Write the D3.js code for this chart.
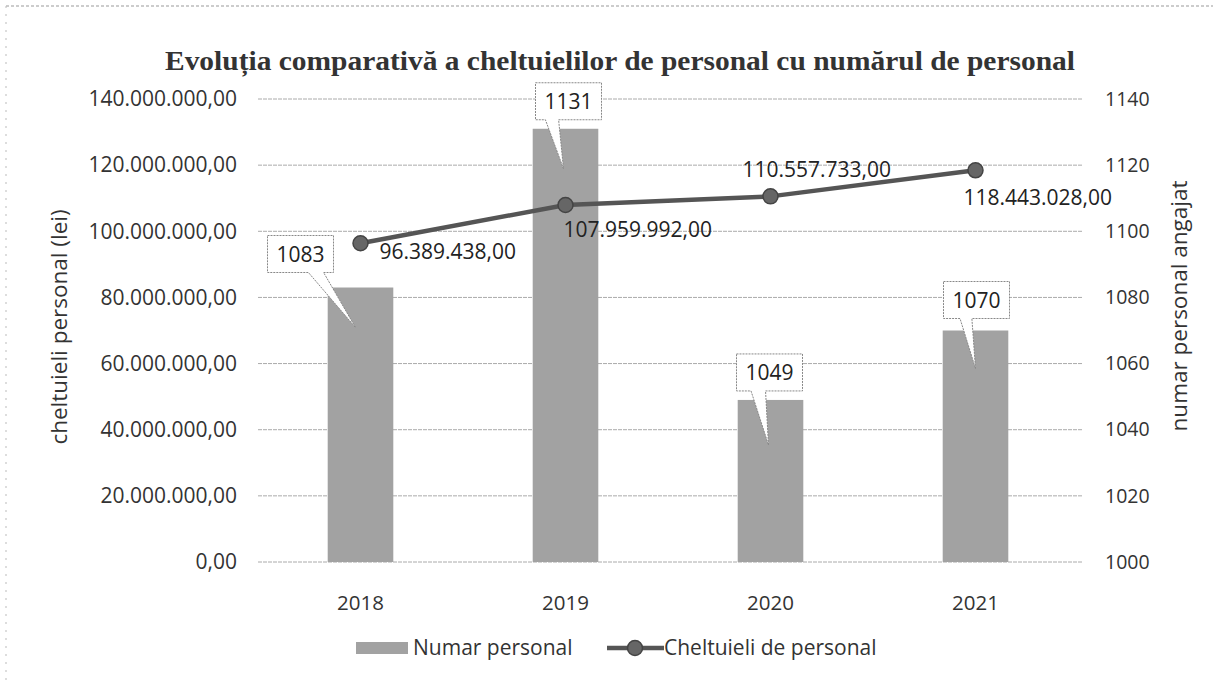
<!DOCTYPE html>
<html>
<head>
<meta charset="utf-8">
<script src="https://cdn.jsdelivr.net/npm/d3@7"></script>
<style>
  body { margin: 0; background: #fff; }
  text { font-family: "Open Sans", "DejaVu Sans", sans-serif; fill: #222; }
</style>
</head>
<body>
<svg id="chart" width="1213" height="682"></svg>
<script>
// data
var years = ['2018', '2019', '2020', '2021'];
var numarPersonal = [1083, 1131, 1049, 1070];
var cheltuieli = [96389438, 107959992, 110557733, 118443028];
var leftTicks = [0, 20000000, 40000000, 60000000, 80000000, 100000000, 120000000, 140000000];
var rightTicks = [1000, 1020, 1040, 1060, 1080, 1100, 1120, 1140];

var svg = d3.select('#chart');
var margin = {left: 258, right: 135, top: 99, bottom: 120};
var W = 1213, H = 682;
var x0 = margin.left, x1 = W - margin.right, y0 = margin.top, y1 = H - margin.bottom;

var fmt = function(v) {
  // romanian style: 1.234.567,00
  var s = Math.round(v).toString().replace(/\B(?=(\d{3})+(?!\d))/g, '.');
  return s + ',00';
};

var x = d3.scaleBand().domain(years).range([x0, x1]).paddingInner(0.68).paddingOuter(0.34);
var yL = d3.scaleLinear().domain([0, 140000000]).range([y1, y0]);
var yR = d3.scaleLinear().domain([1000, 1140]).range([y1, y0]);

// scanned page border
svg.append('line').attr('x1', 6).attr('x2', W).attr('y1', 6).attr('y2', 6)
  .attr('stroke', '#999').attr('stroke-dasharray', '3,2').attr('stroke-width', 1);
svg.append('line').attr('x1', 6).attr('x2', 6).attr('y1', 6).attr('y2', H)
  .attr('stroke', '#bbb').attr('stroke-dasharray', '2,6').attr('stroke-width', 1);

// title
svg.append('text').attr('x', 165).attr('y', 70)
  .attr('textLength', 910).attr('lengthAdjust', 'spacingAndGlyphs')
  .style('font-family', '"Liberation Serif", "DejaVu Serif", serif')
  .style('font-weight', 'bold').style('font-size', '27px').style('fill', '#333')
  .text('Evoluția comparativă a cheltuielilor de personal cu numărul de personal');

// gridlines
svg.append('g').selectAll('line').data(leftTicks).enter().append('line')
  .attr('x1', x0).attr('x2', x1 + 5)
  .attr('y1', function(d) { return yL(d); }).attr('y2', function(d) { return yL(d); })
  .attr('stroke', '#aaa').attr('stroke-width', 1).attr('stroke-dasharray', '4,1');

// left axis
var gl = svg.append('g').attr('transform', 'translate(' + (x0 - 18) + ',0)')
  .call(d3.axisLeft(yL).tickValues(leftTicks).tickFormat(fmt).tickSize(0));
gl.select('.domain').remove();
gl.selectAll('text').style('font-size', '21px').style('fill', '#333').attr('font-family', null);

// right axis
var gr = svg.append('g').attr('transform', 'translate(' + (x1 + 24) + ',0)')
  .call(d3.axisRight(yR).tickValues(rightTicks).tickFormat(d3.format('d')).tickSize(0));
gr.select('.domain').remove();
gr.selectAll('text').style('font-size', '19.5px').style('fill', '#333').attr('font-family', null);

// x axis labels
var gx = svg.append('g').attr('transform', 'translate(0,' + (y1 + 30) + ')')
  .call(d3.axisBottom(x).tickSize(0));
gx.select('.domain').remove();
gx.selectAll('text').style('font-size', '20.5px').style('fill', '#333').attr('font-family', null);

// axis titles
svg.append('text').attr('transform', 'translate(67,' + 327 + ') rotate(-90)')
  .attr('text-anchor', 'middle').style('font-size', '22.5px').style('fill', '#333')
  .text('cheltuieli personal (lei)');
svg.append('text').attr('transform', 'translate(1187,' + 306 + ') rotate(-90)')
  .attr('text-anchor', 'middle').style('font-size', '22.5px').style('fill', '#333')
  .text('numar personal angajat');

// bars
svg.append('g').selectAll('rect').data(numarPersonal).enter().append('rect')
  .attr('x', function(d, i) { return x(years[i]); })
  .attr('width', x.bandwidth())
  .attr('y', function(d) { return yR(d); })
  .attr('height', function(d) { return y1 - yR(d); })
  .attr('fill', '#a2a2a2');

// bar callouts: box offset from band center, pointer into the bar
var boxDx = [-60, 3, -1, 1];
var boxGap = [15, 9, 9, 12];
var baseFrom = [0.62, 0.15, 0.22, 0.25];
var baseTo = [0.85, 0.35, 0.44, 0.43];
var tipDx = [-5, -2, -2, 0];
var tipDy = [40, 40, 45, 38];
var bw = 66, bh = 37;
var callouts = svg.append('g');
numarPersonal.forEach(function(v, i) {
  var cx = x(years[i]) + x.bandwidth() / 2;
  var top = yR(v);
  var bx = cx + boxDx[i] - bw / 2;
  var by = top - boxGap[i] - bh;
  var p = d3.path();
  p.moveTo(bx, by);
  p.lineTo(bx + bw, by);
  p.lineTo(bx + bw, by + bh);
  p.lineTo(bx + bw * baseTo[i], by + bh);
  p.lineTo(cx + tipDx[i], top + tipDy[i]);
  p.lineTo(bx + bw * baseFrom[i], by + bh);
  p.lineTo(bx, by + bh);
  p.closePath();
  callouts.append('path').attr('d', p.toString()).attr('fill', '#fff')
    .attr('stroke', '#888').attr('stroke-width', 1).attr('stroke-dasharray', '2,1');
  callouts.append('text').attr('x', bx + bw / 2).attr('y', by + bh / 2 + 7.5)
    .attr('text-anchor', 'middle').style('font-size', '21px').style('fill', '#222')
    .text(v);
});

// line series
var cx = function(i) { return x(years[i]) + x.bandwidth() / 2; };
var line = d3.line().x(function(d, i) { return cx(i); }).y(function(d) { return yL(d); });
svg.append('path').datum(cheltuieli).attr('d', line)
  .attr('fill', 'none').attr('stroke', '#555').attr('stroke-width', 4.5);
svg.append('g').selectAll('circle').data(cheltuieli).enter().append('circle')
  .attr('cx', function(d, i) { return cx(i); })
  .attr('cy', function(d) { return yL(d); })
  .attr('r', 7.5).attr('fill', '#666').attr('stroke', '#444').attr('stroke-width', 1.5);

// line labels
var labDx = [19, -2, -28, -12];
var labDy = [16, 32, -19, 35];
svg.append('g').selectAll('text').data(cheltuieli).enter().append('text')
  .attr('x', function(d, i) { return cx(i) + labDx[i]; })
  .attr('y', function(d, i) { return yL(d) + labDy[i]; })
  .style('font-size', '21px').style('fill', '#222')
  .text(function(d) { return fmt(d); });

// legend
var lg = svg.append('g').attr('transform', 'translate(0,648)');
lg.append('rect').attr('x', 356).attr('y', -6).attr('width', 52).attr('height', 12).attr('fill', '#a2a2a2');
lg.append('text').attr('x', 413).attr('y', 7).style('font-size', '21px').style('fill', '#333').text('Numar personal');
lg.append('line').attr('x1', 607).attr('x2', 664).attr('y1', 0).attr('y2', 0).attr('stroke', '#555').attr('stroke-width', 4.5);
lg.append('circle').attr('cx', 635).attr('cy', 0).attr('r', 7.5).attr('fill', '#666').attr('stroke', '#444').attr('stroke-width', 1.5);
lg.append('text').attr('x', 664).attr('y', 7).style('font-size', '21px').style('fill', '#333').text('Cheltuieli de personal');
</script>
</body>
</html>
